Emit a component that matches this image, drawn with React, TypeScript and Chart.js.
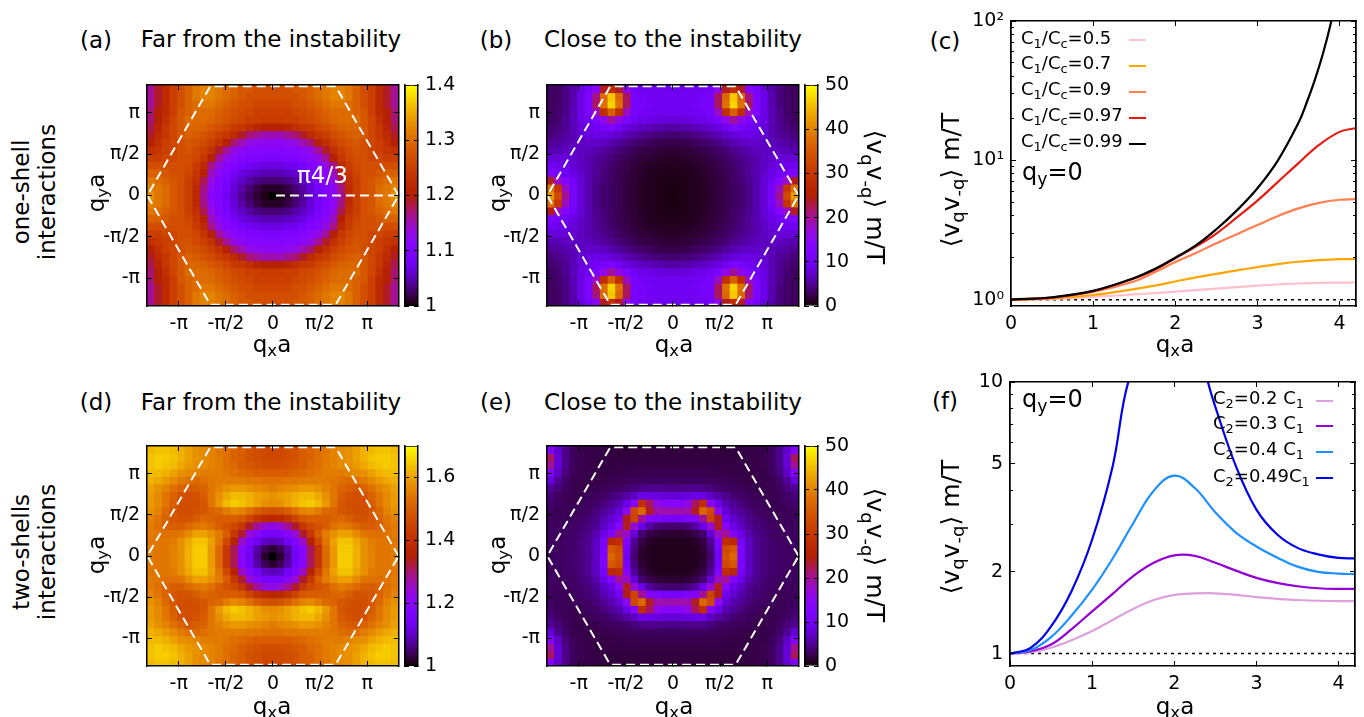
import { useEffect, useRef } from "react";
import { Chart, registerables } from "chart.js";

Chart.register(...registerables);

const FONT = '"DejaVu Sans", sans-serif';

// ---------- heat map cell centres (one quadrant, the maps are mirror symmetric) ----------
const cellQx = [0, 0.2545, 0.509, 0.7635, 1.018, 1.2725, 1.527, 1.7815, 2.036, 2.2905, 2.545, 2.7995, 3.054, 3.3085, 3.563, 3.8175, 4.072];
const cellQy = [0, 0.2897, 0.5794, 0.8691, 1.1588, 1.4485, 1.7382, 2.0279, 2.3176, 2.6073, 2.897, 3.1867, 3.4764, 3.7661, 4.0558];

const valuesA = [
  [1.00, 1.005, 1.012, 1.025, 1.04, 1.06, 1.08, 1.10, 1.115, 1.16, 1.22, 1.25, 1.27, 1.28, 1.30, 1.31, 1.33],
  [1.01, 1.01, 1.018, 1.03, 1.045, 1.065, 1.085, 1.10, 1.12, 1.165, 1.22, 1.25, 1.27, 1.28, 1.30, 1.31, 1.32],
  [1.03, 1.03, 1.035, 1.045, 1.055, 1.07, 1.09, 1.105, 1.13, 1.18, 1.23, 1.25, 1.27, 1.28, 1.29, 1.30, 1.31],
  [1.05, 1.05, 1.055, 1.06, 1.07, 1.085, 1.10, 1.115, 1.145, 1.20, 1.24, 1.26, 1.27, 1.27, 1.28, 1.29, 1.29],
  [1.07, 1.07, 1.075, 1.08, 1.09, 1.10, 1.11, 1.13, 1.165, 1.22, 1.245, 1.265, 1.27, 1.27, 1.27, 1.27, 1.27],
  [1.095, 1.095, 1.10, 1.10, 1.11, 1.115, 1.13, 1.16, 1.20, 1.24, 1.26, 1.27, 1.27, 1.26, 1.26, 1.25, 1.25],
  [1.105, 1.105, 1.11, 1.11, 1.12, 1.13, 1.16, 1.19, 1.23, 1.25, 1.265, 1.275, 1.27, 1.26, 1.25, 1.24, 1.23],
  [1.12, 1.12, 1.125, 1.13, 1.15, 1.17, 1.20, 1.23, 1.25, 1.265, 1.275, 1.28, 1.27, 1.26, 1.25, 1.23, 1.20],
  [1.15, 1.15, 1.16, 1.17, 1.19, 1.22, 1.24, 1.25, 1.265, 1.275, 1.285, 1.29, 1.28, 1.26, 1.24, 1.22, 1.19],
  [1.20, 1.20, 1.21, 1.225, 1.24, 1.245, 1.26, 1.27, 1.28, 1.29, 1.295, 1.295, 1.28, 1.26, 1.24, 1.21, 1.18],
  [1.245, 1.245, 1.25, 1.25, 1.26, 1.265, 1.275, 1.285, 1.295, 1.30, 1.30, 1.30, 1.28, 1.26, 1.23, 1.20, 1.17],
  [1.25, 1.25, 1.25, 1.26, 1.265, 1.27, 1.28, 1.29, 1.30, 1.30, 1.30, 1.29, 1.28, 1.25, 1.22, 1.20, 1.17],
  [1.26, 1.26, 1.26, 1.27, 1.27, 1.28, 1.29, 1.30, 1.31, 1.31, 1.30, 1.29, 1.27, 1.25, 1.22, 1.19, 1.16],
  [1.27, 1.27, 1.27, 1.27, 1.28, 1.29, 1.30, 1.31, 1.32, 1.32, 1.31, 1.29, 1.27, 1.25, 1.22, 1.19, 1.16],
  [1.27, 1.27, 1.27, 1.28, 1.28, 1.29, 1.30, 1.31, 1.32, 1.32, 1.31, 1.29, 1.27, 1.25, 1.22, 1.19, 1.16],
];

const valuesB = [
  [0.5, 0.6, 0.8, 1, 1.2, 1.5, 2, 2.5, 3, 3.5, 4.5, 6, 8, 11, 20, 33, 42],
  [0.5, 0.6, 0.8, 1, 1.2, 1.5, 2, 2.5, 3, 3.5, 4.5, 6, 8, 11, 18, 30, 38],
  [0.6, 0.7, 0.8, 1, 1.3, 1.6, 2, 2.5, 3.2, 3.8, 4.8, 6, 8, 10, 13, 18, 24],
  [0.7, 0.8, 0.9, 1.1, 1.4, 1.7, 2.1, 2.6, 3.3, 4, 5, 6, 7.5, 9, 10, 11, 12],
  [0.9, 1, 1.1, 1.3, 1.5, 1.9, 2.3, 2.8, 3.5, 4.2, 5, 6, 7, 8, 9, 9.5, 10],
  [1.2, 1.3, 1.4, 1.6, 1.9, 2.2, 2.7, 3.2, 3.9, 4.6, 5.3, 6, 6.8, 7.5, 8, 8, 8],
  [1.6, 1.7, 1.9, 2.1, 2.4, 2.8, 3.3, 3.9, 4.7, 5.4, 6, 6.5, 6.8, 7, 6.8, 6.3, 6],
  [2.3, 2.4, 2.6, 2.9, 3.3, 3.8, 4.4, 5.2, 6, 6.8, 7.2, 7.3, 7, 6.5, 6, 5.3, 5],
  [3.5, 3.7, 4, 4.3, 4.8, 5.4, 6.2, 7.2, 8, 8.8, 9, 8.5, 7.5, 6.3, 5.2, 4.6, 4],
  [5.5, 5.7, 6, 6.4, 7, 7.6, 8.5, 10, 12, 11, 10, 9, 8, 6.3, 5, 4, 3.5],
  [8, 8.2, 8.5, 9, 9.5, 10, 12, 16, 20, 16, 12, 10, 9, 6.5, 4.8, 3.6, 3],
  [9.5, 9.6, 9.8, 10, 10.5, 11, 18, 28, 36, 28, 18, 12, 9, 6.3, 4.5, 3.4, 3],
  [10, 10, 10.2, 10.5, 11, 11.5, 22, 38, 47, 38, 22, 12, 9, 6, 4.3, 3.3, 3],
  [10, 10, 10, 10.3, 10.8, 11.5, 22, 37, 46, 37, 21, 12, 9, 6, 4.2, 3.2, 3],
  [9.5, 9.5, 9.6, 9.8, 10, 10.5, 16, 24, 28, 24, 14, 11, 8.5, 5.8, 4.2, 3.2, 3],
];

const valuesD = [
  [1.00, 1.02, 1.07, 1.14, 1.20, 1.31, 1.42, 1.52, 1.59, 1.65, 1.65, 1.62, 1.58, 1.56, 1.54, 1.54, 1.55],
  [1.02, 1.04, 1.08, 1.15, 1.20, 1.31, 1.42, 1.52, 1.59, 1.65, 1.65, 1.62, 1.58, 1.56, 1.54, 1.54, 1.55],
  [1.09, 1.10, 1.14, 1.18, 1.25, 1.36, 1.46, 1.54, 1.60, 1.64, 1.64, 1.61, 1.58, 1.55, 1.54, 1.54, 1.54],
  [1.16, 1.16, 1.19, 1.24, 1.33, 1.42, 1.50, 1.55, 1.58, 1.60, 1.60, 1.57, 1.54, 1.53, 1.53, 1.54, 1.55],
  [1.22, 1.24, 1.28, 1.33, 1.42, 1.46, 1.48, 1.50, 1.53, 1.55, 1.54, 1.52, 1.50, 1.50, 1.51, 1.53, 1.55],
  [1.37, 1.38, 1.41, 1.45, 1.49, 1.50, 1.50, 1.50, 1.51, 1.52, 1.50, 1.48, 1.48, 1.49, 1.51, 1.54, 1.56],
  [1.47, 1.48, 1.50, 1.53, 1.56, 1.57, 1.55, 1.52, 1.51, 1.49, 1.48, 1.47, 1.47, 1.49, 1.52, 1.56, 1.58],
  [1.57, 1.58, 1.60, 1.62, 1.64, 1.65, 1.63, 1.59, 1.54, 1.49, 1.47, 1.47, 1.47, 1.50, 1.54, 1.57, 1.59],
  [1.58, 1.59, 1.60, 1.62, 1.63, 1.63, 1.61, 1.58, 1.54, 1.50, 1.48, 1.47, 1.48, 1.51, 1.54, 1.57, 1.59],
  [1.55, 1.56, 1.57, 1.58, 1.59, 1.59, 1.58, 1.56, 1.54, 1.51, 1.50, 1.49, 1.51, 1.53, 1.56, 1.58, 1.60],
  [1.53, 1.53, 1.54, 1.54, 1.55, 1.55, 1.55, 1.55, 1.54, 1.53, 1.52, 1.53, 1.55, 1.57, 1.59, 1.61, 1.62],
  [1.50, 1.50, 1.50, 1.51, 1.52, 1.53, 1.54, 1.55, 1.55, 1.55, 1.56, 1.57, 1.58, 1.60, 1.62, 1.63, 1.63],
  [1.47, 1.47, 1.48, 1.49, 1.50, 1.52, 1.53, 1.55, 1.56, 1.57, 1.58, 1.59, 1.61, 1.63, 1.64, 1.65, 1.64],
  [1.46, 1.46, 1.47, 1.48, 1.50, 1.51, 1.53, 1.55, 1.56, 1.57, 1.58, 1.60, 1.62, 1.64, 1.65, 1.65, 1.64],
  [1.46, 1.46, 1.47, 1.48, 1.50, 1.51, 1.53, 1.54, 1.56, 1.57, 1.58, 1.60, 1.62, 1.63, 1.64, 1.64, 1.63],
];

const valuesE = [
  [0.8, 0.8, 0.9, 1, 1.4, 3.5, 10, 34, 37, 12, 7, 5, 4, 3.5, 3.2, 3.1, 3],
  [0.8, 0.8, 0.9, 1, 1.6, 4, 11, 33, 35, 12, 7, 5, 4, 3.5, 3.2, 3.1, 3],
  [0.9, 0.9, 1, 1.4, 2.2, 5, 13, 28, 27, 11, 7, 5, 4, 3.5, 3.2, 3, 3],
  [1.5, 1.5, 1.8, 2.4, 3.6, 8, 18, 20, 13, 9, 6, 4.5, 3.8, 3.3, 3, 3, 3],
  [3.5, 3.6, 4, 5.5, 9, 17, 24, 14, 9, 7, 5, 4, 3.5, 3.2, 3, 3, 3],
  [11, 11, 12, 13, 20, 32, 24, 10, 7.5, 6, 4.5, 3.8, 3.3, 3, 2.8, 2.8, 2.9],
  [19, 19, 19, 24, 37, 33, 15, 8, 6, 5, 4, 3.3, 3, 2.8, 2.7, 2.8, 3],
  [14, 14, 16, 22, 28, 14, 9, 6, 5, 4, 3.3, 3, 2.7, 2.6, 2.7, 3, 3.5],
  [8, 8, 8.5, 9, 9, 7, 5.5, 4.5, 3.8, 3.3, 3, 2.7, 2.5, 2.5, 2.7, 3.2, 4],
  [4.5, 4.5, 4.7, 4.8, 4.6, 4, 3.5, 3.2, 3, 2.8, 2.5, 2.4, 2.4, 2.5, 3, 4, 5],
  [3, 3, 3, 3, 3, 2.9, 2.8, 2.6, 2.5, 2.4, 2.3, 2.3, 2.4, 2.6, 3.4, 5, 8],
  [2.5, 2.5, 2.5, 2.5, 2.5, 2.4, 2.4, 2.3, 2.3, 2.2, 2.2, 2.3, 2.4, 2.8, 4, 7, 13],
  [2.2, 2.2, 2.2, 2.2, 2.2, 2.2, 2.2, 2.2, 2.2, 2.2, 2.2, 2.3, 2.5, 3, 4.5, 8, 20],
  [2, 2, 2, 2, 2, 2, 2, 2, 2, 2.1, 2.2, 2.3, 2.5, 3, 4.5, 8, 22],
  [2, 2, 2, 2, 2, 2, 2, 2, 2, 2.1, 2.2, 2.3, 2.5, 3, 4.5, 7.5, 13],
];

// ---------- overlay lines on the heat maps ----------
const hexQx = [4.19, 2.09, -2.09, -4.19, -2.09, 2.09, 4.19];
const hexQy = [0, 4.15, 4.15, 0, -4.15, -4.15, 0];
const radiusQx = [0.1, 4.19];
const radiusQy = [0, 0];

// ---------- tick labels ----------
const piTicks = [-Math.PI, -Math.PI / 2, 0, Math.PI / 2, Math.PI];
const piLabels = ["-π", "-π/2", "0", "π/2", "π"];
const cbTicksA = [1, 1.1, 1.2, 1.3, 1.4];
const cbLabelsA = ["1", "1.1", "1.2", "1.3", "1.4"];
const cbTicksD = [1, 1.2, 1.4, 1.6];
const cbLabelsD = ["1", "1.2", "1.4", "1.6"];
const cbTicks50 = [0, 10, 20, 30, 40, 50];
const cbLabels50 = ["0", "10", "20", "30", "40", "50"];
const lineXTicks = [0, 1, 2, 3, 4];
const lineXLabels = ["0", "1", "2", "3", "4"];
const cYTicks = [1, 10, 100];
const cYLabels = ["10⁰", "10¹", "10²"];
const cYMinor = [2, 3, 4, 5, 6, 7, 8, 9, 20, 30, 40, 50, 60, 70, 80, 90];
const fYTicks = [1, 2, 5, 10];
const fYLabels = ["1", "2", "5", "10"];
const fYMinor = [3, 4, 6, 7, 8, 9];

// ---------- panel (c) ----------
const cQx = [0, 0.5, 1, 1.5, 1.75, 2, 2.25, 2.5, 2.75, 3, 3.25, 3.5, 3.75, 4, 4.19];
const c05 = [1, 1.012, 1.045, 1.09, 1.114, 1.14, 1.17, 1.2, 1.23, 1.26, 1.285, 1.305, 1.32, 1.325, 1.327];
const c07 = [1, 1.02, 1.08, 1.19, 1.26, 1.35, 1.445, 1.53, 1.62, 1.71, 1.80, 1.87, 1.92, 1.95, 1.955];
const c09 = [1, 1.03, 1.135, 1.35, 1.57, 1.86, 2.16, 2.54, 2.95, 3.43, 3.98, 4.52, 4.95, 5.21, 5.26];
const c097 = [1, 1.035, 1.15, 1.42, 1.64, 1.98, 2.4, 2.98, 3.89, 5.13, 7.0, 9.55, 12.9, 16.0, 17];
const c099Qx = [0, 0.5, 1, 1.5, 1.75, 2, 2.25, 2.5, 2.75, 3, 3.25, 3.5, 3.6, 3.7, 3.8, 3.9, 4];
const c099 = [1, 1.04, 1.155, 1.43, 1.66, 2.0, 2.45, 3.2, 4.37, 6.3, 10, 18.6, 26, 38, 59, 100, 190];
const cLabels = ["0.5", "0.7", "0.9", "0.97", "0.99"];
const cColors = ["#ffc0cb", "#ffa500", "#ff7f50", "#e51a10", "#000000"];

// ---------- panel (f) ----------
const fQx = [0, 0.25, 0.5, 0.75, 1, 1.25, 1.5, 1.75, 2, 2.25, 2.5, 2.75, 3, 3.25, 3.5, 3.75, 4, 4.19];
const f02 = [1, 1.01, 1.05, 1.12, 1.21, 1.33, 1.46, 1.574, 1.645, 1.665, 1.667, 1.645, 1.615, 1.59, 1.575, 1.565, 1.56, 1.56];
const f03 = [1, 1.02, 1.08, 1.23, 1.43, 1.66, 1.93, 2.16, 2.3, 2.29, 2.16, 2.02, 1.9, 1.82, 1.77, 1.74, 1.73, 1.73];
const f04 = [1, 1.03, 1.15, 1.38, 1.72, 2.24, 3.02, 3.98, 4.52, 4.07, 3.31, 2.79, 2.48, 2.26, 2.09, 2.0, 1.97, 1.96];
const f049Qx = [0, 0.25, 0.5, 0.75, 1, 1.25, 1.44, 2, 2.41, 2.5, 2.75, 3, 3.25, 3.5, 3.75, 4, 4.19];
const f049 = [1, 1.05, 1.26, 1.7, 2.63, 4.9, 10, 32, 10, 8.1, 4.9, 3.39, 2.75, 2.45, 2.32, 2.25, 2.24];
const fLabels = ["0.2 ", "0.3 ", "0.4 ", "0.49"];
const fColors = ["#dda0dd", "#9400d3", "#1e90ff", "#0000ee"];

const unitQx = [0, 4.2];
const unitY = [1, 1];

// ---------- helpers ----------
function palette(g: number) {
  const t = Math.max(0, Math.min(1, g));
  const r = Math.sqrt(t);
  const gr = t * t * t;
  const b = Math.max(0, Math.sin(2 * Math.PI * t));
  return `rgb(${Math.round(r * 255)},${Math.round(gr * 255)},${Math.round(b * 255)})`;
}

function mirrored(values: number[][]) {
  const cells: { x: number; y: number; v: number }[] = [];
  const n = cellQy.length;
  const m = cellQx.length;
  for (let j = -(n - 1); j <= n - 1; j++) {
    for (let i = -(m - 1); i <= m - 1; i++) {
      cells.push({
        x: Math.sign(i) * cellQx[Math.abs(i)],
        y: Math.sign(j) * cellQy[Math.abs(j)],
        v: values[Math.abs(j)][Math.abs(i)],
      });
    }
  }
  return cells;
}

function pairs(xs: number[], ys: number[]) {
  return xs.map((x, i) => ({ x, y: ys[i] }));
}

function axis(
  position: string,
  type: string,
  min: number,
  max: number,
  ticks: number[],
  labels: string[] | null,
  size: number,
  tickLen: number,
  weight: number,
  fontSize = 19
) {
  return {
    type,
    position,
    min,
    max,
    weight,
    offset: false,
    border: { display: true, color: "#000", width: 1.5, z: 1 },
    grid: { drawOnChartArea: false, drawTicks: true, tickLength: -tickLen, tickColor: "#000", tickWidth: 1, z: 1 },
    ticks: {
      display: !!labels,
      autoSkip: false,
      maxRotation: 0,
      minRotation: 0,
      padding: 7 + tickLen,
      color: "#000",
      font: { family: FONT, size: fontSize },
      callback: (_v: unknown, i: number) => (labels ? labels[i] : ""),
    },
    afterBuildTicks: (s: any) => {
      s.ticks = ticks.map((value) => ({ value }));
    },
    afterFit: (s: any) => {
      if (position === "top" || position === "bottom") s.height = size;
      else s.width = size;
      s.paddingTop = 0;
      s.paddingBottom = 0;
      s.paddingLeft = 0;
      s.paddingRight = 0;
    },
  };
}

function ChartCanvas({ x, y, w, h, make }: { x: number; y: number; w: number; h: number; make: () => any }) {
  const ref = useRef<HTMLCanvasElement | null>(null);
  useEffect(() => {
    const chart = new Chart(ref.current as HTMLCanvasElement, make());
    return () => chart.destroy();
  }, []);
  return <canvas ref={ref} width={w} height={h} style={{ position: "absolute", left: x, top: y, width: w, height: h }} />;
}

function Txt({ x, y, size = 23, rot = 0, color = "#000", left = false, children }: any) {
  return (
    <div
      style={{
        position: "absolute",
        left: x,
        top: y,
        transform: `translate(${left ? 0 : -50}%,-50%) rotate(${rot}deg)`,
        whiteSpace: "nowrap",
        fontFamily: FONT,
        fontSize: size,
        lineHeight: 1,
        color,
        zIndex: 2,
      }}
    >
      {children}
    </div>
  );
}

const Sub = ({ children }: any) => (
  <sub style={{ fontSize: "0.72em", lineHeight: 0, verticalAlign: "-0.3em" }}>{children}</sub>
);

const quiet = { legend: { display: false }, tooltip: { enabled: false }, title: { display: false } };

function heatConfig(values: number[][], min: number, max: number, radius: boolean) {
  const white = { showLine: true, borderColor: "#fff", borderWidth: 2, borderDash: [9, 5], pointRadius: 0, clip: false, tension: 0 };
  const datasets: any[] = [{ ...white, data: pairs(hexQx, hexQy) }];
  if (radius) datasets.push({ ...white, data: pairs(radiusQx, radiusQy) });
  datasets.push({
    data: mirrored(values),
    clip: 0,
    pointStyle: "rect",
    pointRadius: 6.1,
    pointBorderWidth: 0,
    pointBackgroundColor: (c: any) => palette((c.raw.v - min) / (max - min)),
  });
  return {
    type: "scatter",
    data: { datasets },
    options: {
      animation: false,
      responsive: false,
      events: [],
      layout: { padding: { left: 0, right: 6, top: 12, bottom: 0 } },
      plugins: quiet,
      scales: {
        x: axis("bottom", "linear", -4.2, 4.2, piTicks, piLabels, 36, 5, 1),
        x2: axis("top", "linear", -4.2, 4.2, piTicks, null, 0, 5, 0),
        y: axis("left", "linear", -4.2, 4.2, piTicks, piLabels, 60, 5, 1),
        y2: axis("right", "linear", -4.2, 4.2, piTicks, null, 0, 5, 0),
      },
    },
  };
}

function barConfig(min: number, max: number, ticks: number[], labels: string[]) {
  return {
    type: "bar",
    data: {
      labels: ["palette"],
      datasets: [
        {
          data: [[min, max]],
          barPercentage: 1,
          categoryPercentage: 1,
          borderSkipped: false,
          borderWidth: 1,
          borderColor: "#000",
          backgroundColor: (c: any) => {
            const a = c.chart.chartArea;
            if (!a) return "#000";
            const g = c.chart.ctx.createLinearGradient(0, a.bottom, 0, a.top);
            for (let i = 0; i <= 64; i++) g.addColorStop(i / 64, palette(i / 64));
            return g;
          },
        },
      ],
    },
    options: {
      animation: false,
      responsive: false,
      events: [],
      layout: { padding: { left: 2, right: 0, top: 12, bottom: 12 } },
      plugins: quiet,
      scales: {
        x: { type: "category", display: false },
        y: axis("right", "linear", min, max, ticks, labels, 50, 4, 1),
        y2: axis("left", "linear", min, max, ticks, null, 0, 4, 0),
      },
    },
  };
}

function lineConfig(series: any[], yMin: number, yMax: number, yTicks: number[], yLabels: string[], yMinor: number[], left: number) {
  const curve = (s: any, i: number) => ({
    data: pairs(s.x, s.y),
    showLine: true,
    borderColor: s.color,
    borderWidth: 2.2,
    pointRadius: 0,
    tension: 0.4,
    clip: 0,
    order: series.length - i,
  });
  return {
    type: "scatter",
    data: {
      datasets: [
        ...series.map(curve),
        {
          data: pairs(unitQx, unitY),
          showLine: true,
          borderColor: "#000",
          borderWidth: 1.5,
          borderDash: [3, 4],
          pointRadius: 0,
          clip: 0,
          order: 100,
        },
      ],
    },
    options: {
      animation: false,
      responsive: false,
      events: [],
      layout: { padding: { left: 0, right: 4, top: 12, bottom: 0 } },
      plugins: quiet,
      scales: {
        x: axis("bottom", "linear", 0, 4.2, lineXTicks, lineXLabels, 36, 5, 1),
        x2: axis("top", "linear", 0, 4.2, lineXTicks, null, 0, 5, 0),
        y: axis("left", "logarithmic", yMin, yMax, yTicks, yLabels, left, 5, 1),
        yMinor: axis("left", "logarithmic", yMin, yMax, yMinor, null, 0, 3, 0),
        y2: axis("right", "logarithmic", yMin, yMax, yTicks, null, 0, 5, 0),
        y2Minor: axis("right", "logarithmic", yMin, yMax, yMinor, null, 0, 3, 0),
      },
    },
  };
}

function HeatPanel({ left, top, height, values, min, max, ticks, labels, radius = false }: any) {
  const width = 252;
  return (
    <>
      <ChartCanvas x={left - 60} y={top - 12} w={width + 66} h={height + 48} make={() => heatConfig(values, min, max, radius)} />
      <ChartCanvas x={left + 256} y={top - 12} w={65} h={height + 24} make={() => barConfig(min, max, ticks, labels)} />
    </>
  );
}

const QxA = ({ x, y }: any) => (
  <Txt x={x} y={y} size={23}>
    q<Sub>x</Sub>a
  </Txt>
);
const QyA = ({ x, y }: any) => (
  <Txt x={x} y={y} size={23} rot={-90}>
    q<Sub>y</Sub>a
  </Txt>
);
const Corr = ({ x, y, rot }: any) => (
  <Txt x={x} y={y} size={25} rot={rot}>
    ⟨v<Sub>q</Sub>v<Sub>-q</Sub>⟩ m/T
  </Txt>
);
const Sample = ({ x, y, color }: any) => (
  <div style={{ position: "absolute", left: x, top: y - 1, width: 17, height: 2.4, background: color, zIndex: 2 }} />
);

const cSeries = [
  { x: cQx, y: c05, color: cColors[0] },
  { x: cQx, y: c07, color: cColors[1] },
  { x: cQx, y: c09, color: cColors[2] },
  { x: cQx, y: c097, color: cColors[3] },
  { x: c099Qx, y: c099, color: cColors[4] },
];
const fSeries = [
  { x: fQx, y: f02, color: fColors[0] },
  { x: fQx, y: f03, color: fColors[1] },
  { x: fQx, y: f04, color: fColors[2] },
  { x: f049Qx, y: f049, color: fColors[3] },
];

export default function App() {
  const cTextY = [38, 63, 89, 115, 141];
  const cLineY = [39.5, 65.5, 91.5, 117.5, 143.5];
  const fTextY = [398, 423, 449, 476];
  const fLineY = [400.5, 426, 452, 478];
  return (
    <div style={{ position: "absolute", left: 0, top: 0, width: 1364, height: 717, background: "#fff", overflow: "hidden" }}>
      <HeatPanel left={147} top={85} height={221} values={valuesA} min={1} max={1.4} ticks={cbTicksA} labels={cbLabelsA} radius />
      <HeatPanel left={547} top={85} height={221} values={valuesB} min={0} max={50} ticks={cbTicks50} labels={cbLabels50} />
      <HeatPanel left={147} top={446} height={220} values={valuesD} min={1} max={1.7} ticks={cbTicksD} labels={cbLabelsD} />
      <HeatPanel left={547} top={446} height={220} values={valuesE} min={0} max={50} ticks={cbTicks50} labels={cbLabels50} />
      <ChartCanvas x={961} y={9} w={399} h={333} make={() => lineConfig(cSeries, 0.9, 100, cYTicks, cYLabels, cYMinor, 50)} />
      <ChartCanvas x={960} y={370} w={399} h={332} make={() => lineConfig(fSeries, 0.9, 10, fYTicks, fYLabels, fYMinor, 50)} />

      <Txt x={96} y={40}>(a)</Txt>
      <Txt x={271} y={39}>Far from the instability</Txt>
      <Txt x={496} y={40}>(b)</Txt>
      <Txt x={673} y={39}>Close to the instability</Txt>
      <Txt x={945} y={41}>(c)</Txt>
      <Txt x={96} y={402}>(d)</Txt>
      <Txt x={271} y={402}>Far from the instability</Txt>
      <Txt x={496} y={402}>(e)</Txt>
      <Txt x={673} y={402}>Close to the instability</Txt>
      <Txt x={945} y={401}>(f)</Txt>

      <Txt x={21} y={192} rot={-90}>one-shell</Txt>
      <Txt x={47} y={192} rot={-90}>interactions</Txt>
      <Txt x={21} y={552} rot={-90}>two-shells</Txt>
      <Txt x={47} y={552} rot={-90}>interactions</Txt>

      <QxA x={272} y={344} />
      <QyA x={96} y={193} />
      <QxA x={674} y={344} />
      <QyA x={497} y={193} />
      <QxA x={272} y={706} />
      <QyA x={96} y={555} />
      <QxA x={674} y={706} />
      <QyA x={497} y={555} />
      <QxA x={1175} y={344} />
      <QxA x={1175} y={706} />

      <Corr x={875} y={197} rot={90} />
      <Corr x={875} y={555} rot={90} />
      <Corr x={950} y={180} rot={-90} />
      <Corr x={950} y={527} rot={-90} />

      <Txt x={297} y={175} size={23} color="#fff" left>π4/3</Txt>

      <Txt x={1022} y={172} size={24} left>q<Sub>y</Sub>=0</Txt>
      <Txt x={1022} y={399} size={24} left>q<Sub>y</Sub>=0</Txt>

      {cLabels.map((l, i) => (
        <Txt key={l} x={1021} y={cTextY[i]} size={18} left>
          C<Sub>1</Sub>/C<Sub>c</Sub>={l}
        </Txt>
      ))}
      {cColors.map((c, i) => (
        <Sample key={c} x={1129} y={cLineY[i]} color={c} />
      ))}
      {fLabels.map((l, i) => (
        <Txt key={l} x={1213} y={fTextY[i]} size={18} left>
          <span style={{ whiteSpace: "pre" }}>
            C<Sub>2</Sub>={l}C<Sub>1</Sub>
          </span>
        </Txt>
      ))}
      {fColors.map((c, i) => (
        <Sample key={c} x={1316} y={fLineY[i]} color={c} />
      ))}
    </div>
  );
}
